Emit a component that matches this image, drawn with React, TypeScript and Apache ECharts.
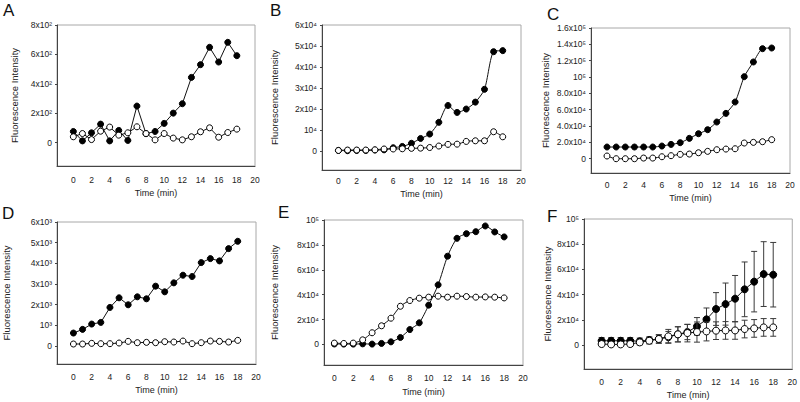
import React, { useEffect, useRef } from "react";
import * as echarts from "echarts";

const time = [0, 1, 2, 3, 4, 5, 6, 7, 8, 9, 10, 11, 12, 13, 14, 15, 16, 17, 18];
const xTicks = [0, 2, 4, 6, 8, 10, 12, 14, 16, 18, 20];

const aFilled = [75, 11, 66, 125, 11, 82, 14, 248, 60, 75, 130, 200, 264, 443, 530, 648, 548, 682, 591];
const aOpen = [39, 61, 20, 77, 105, 50, 66, 107, 61, 18, 61, 30, 18, 39, 73, 100, 36, 68, 91];
const aTicks = [0, 200, 400, 600, 800];
const aLabels = ["0", "2x10²", "4x10²", "6x10²", "8x10²"];

const bFilled = [300, 200, 300, 300, 500, 600, 1600, 2200, 3700, 6000, 8100, 13700, 21700, 18400, 20000, 23300, 29400, 47300, 47800];
const bOpen = [300, 500, 500, 500, 600, 1000, 1000, 1100, 1300, 1400, 1700, 2400, 3200, 3300, 4600, 4900, 4900, 9200, 6800];
const bTicks = [0, 10000, 20000, 30000, 40000, 50000, 60000];
const bLabels = ["0", "10⁴", "2x10⁴", "3x10⁴", "4x10⁴", "5x10⁴", "6x10⁴"];

const cFilled = [14300, 14300, 14300, 14300, 14300, 14300, 15500, 17500, 19600, 24900, 30600, 35500, 44900, 55500, 69400, 100400, 118400, 134700, 135500];
const cOpen = [3300, 0, 0, 0, 800, 800, 2400, 3700, 5300, 5700, 7300, 9000, 11000, 11800, 12200, 19200, 20000, 20800, 23300];
const cTicks = [0, 20000, 40000, 60000, 80000, 100000, 120000, 140000, 160000];
const cLabels = ["0", "2.0x10⁴", "4.0x10⁴", "6.0x10⁴", "8.0x10⁴", "10⁵", "1.2x10⁵", "1.4x10⁵", "1.6x10⁵"];

const dFilled = [627, 804, 1062, 1142, 1866, 2332, 1995, 2381, 2284, 2895, 2622, 3056, 3426, 3362, 4037, 4230, 4118, 4713, 5067];
const dOpen = [97, 97, 129, 113, 113, 145, 225, 161, 177, 161, 209, 193, 241, 113, 161, 241, 225, 193, 273];
const dTicks = [0, 1000, 2000, 3000, 4000, 5000, 6000];
const dLabels = ["0", "10³", "2x10³", "3x10³", "4x10³", "5x10³", "6x10³"];

const eFilled = [400, 300, 300, 500, 300, 800, 2100, 5600, 12000, 17400, 31600, 47900, 70900, 85300, 89000, 90600, 95200, 90400, 86400];
const eOpen = [1100, 800, 1100, 3700, 9400, 15000, 21100, 30700, 35300, 37200, 38000, 38800, 38000, 38800, 38500, 38000, 38200, 38000, 37400];
const eTicks = [0, 20000, 40000, 60000, 80000, 100000];
const eLabels = ["0", "2x10⁴", "4x10⁴", "6x10⁴", "8x10⁴", "10⁵"];

const fFilled = [3400, 3400, 3400, 3400, 3000, 4000, 4800, 6300, 8500, 10300, 14800, 20400, 28600, 32500, 36800, 44200, 50300, 56300, 55800];
const fFilledSd = [2500, 2500, 2500, 2500, 2500, 2500, 3000, 4500, 6000, 6000, 7000, 9000, 13000, 16700, 18400, 21700, 24000, 25700, 25600];
const fOpen = [800, 500, 500, 800, 2100, 3400, 4800, 6900, 8500, 9500, 10300, 10800, 11400, 11600, 11600, 12700, 13200, 14000, 14000];
const fOpenSd = [1500, 1500, 1500, 1500, 2000, 2500, 3500, 5500, 6000, 7000, 8000, 7500, 7000, 7000, 7000, 7000, 7000, 7000, 7000];
const fTicks = [0, 20000, 40000, 60000, 80000, 100000];
const fLabels = ["0", "2x10⁴", "4x10⁴", "6x10⁴", "8x10⁴", "10⁵"];

const letters = ["A", "B", "C", "D", "E", "F"];
const yName = "Fluorescence Intensity";
const xName = "Time (min)";

const FONT = "'Liberation Sans', Arial, sans-serif";

type Panel = {
  grid: { left: number; top: number; width: number; height: number };
  xMin: number;
  yMin: number;
  yMax: number;
  ticks: number[];
  labels: string[];
  filled: number[];
  open: number[];
  filledSd?: number[];
  openSd?: number[];
  smooth: number | boolean;
  yNameGap: number;
  xNameGap: number;
  xLabelMargin: number;
  letter: [number, number];
  symbolSize: number;
};

const panels: Panel[] = [
  { grid: { left: 57, top: 25, width: 198, height: 141 }, xMin: -1.8, yMin: -160, yMax: 800, ticks: aTicks, labels: aLabels, filled: aFilled, open: aOpen, smooth: false, yNameGap: 38, xNameGap: 22, xLabelMargin: 9, letter: [3, 2], symbolSize: 6 },
  { grid: { left: 322, top: 25, width: 199, height: 145 }, xMin: -1.8, yMin: -9000, yMax: 60000, ticks: bTicks, labels: bLabels, filled: bFilled, open: bOpen, smooth: 0.25, yNameGap: 43, xNameGap: 19, xLabelMargin: 6, letter: [270, 2], symbolSize: 6 },
  { grid: { left: 591, top: 28, width: 199, height: 145 }, xMin: -1.75, yMin: -17500, yMax: 160000, ticks: cTicks, labels: cLabels, filled: cFilled, open: cOpen, smooth: 0.25, yNameGap: 41, xNameGap: 20, xLabelMargin: 7, letter: [547, 6], symbolSize: 6 },
  { grid: { left: 57, top: 222, width: 199, height: 142 }, xMin: -1.8, yMin: -870, yMax: 6000, ticks: dTicks, labels: dLabels, filled: dFilled, open: dOpen, smooth: false, yNameGap: 46, xNameGap: 21, xLabelMargin: 8, letter: [2, 205], symbolSize: 6 },
  { grid: { left: 324, top: 220, width: 199, height: 145 }, xMin: -1.1, yMin: -16500, yMax: 100000, ticks: eTicks, labels: eLabels, filled: eFilled, open: eOpen, smooth: 0.25, yNameGap: 45, xNameGap: 22, xLabelMargin: 8, letter: [278, 204], symbolSize: 6 },
  { grid: { left: 584, top: 219, width: 209, height: 150 }, xMin: -1.85, yMin: -19000, yMax: 100000, ticks: fTicks, labels: fLabels, filled: fFilled, open: fOpen, filledSd: fFilledSd, openSd: fOpenSd, smooth: false, yNameGap: 32, xNameGap: 21, xLabelMargin: 8, letter: [547, 208], symbolSize: 7 },
];

function errorBarRender(params: any, api: any) {
  const x = api.value(0);
  const y = api.value(1);
  const sd = api.value(2);
  const top = api.coord([x, y + sd]);
  const bot = api.coord([x, y - sd]);
  const hw = 3;
  const style = { stroke: "#3a3a3a", lineWidth: 1 };
  return {
    type: "group",
    children: [
      { type: "line", shape: { x1: top[0], y1: top[1], x2: bot[0], y2: bot[1] }, style },
      { type: "line", shape: { x1: top[0] - hw, y1: top[1], x2: top[0] + hw, y2: top[1] }, style },
      { type: "line", shape: { x1: bot[0] - hw, y1: bot[1], x2: bot[0] + hw, y2: bot[1] }, style },
    ],
  };
}

export default function App() {
  const ref = useRef<HTMLDivElement>(null);
  useEffect(() => {
    if (!ref.current) return;
    const chart = echarts.init(ref.current, undefined, { renderer: "svg" });
    const grids: any[] = [];
    const xAxes: any[] = [];
    const yAxes: any[] = [];
    const series: any[] = [];
    const graphics: any[] = [];
    panels.forEach((p, i) => {
      grids.push({ ...p.grid, show: true, borderColor: "#a8a8a8", borderWidth: 1, backgroundColor: "transparent" });
      xAxes.push({
        type: "value",
        gridIndex: i,
        min: p.xMin,
        max: 20,
        name: xName,
        nameLocation: "middle",
        nameGap: p.xNameGap,
        nameTextStyle: { fontFamily: FONT, fontSize: 9, color: "#222" },
        axisLine: { show: true, onZero: false, lineStyle: { color: "#444", width: 1 } },
        axisTick: { show: false },
        splitLine: { show: false },
        axisLabel: {
          customValues: xTicks,
          margin: p.xLabelMargin,
          fontFamily: FONT,
          fontSize: 8.5,
          color: "#222",
          showMinLabel: true,
          showMaxLabel: true,
        },
      });
      yAxes.push({
        type: "value",
        gridIndex: i,
        min: p.yMin,
        max: p.yMax,
        name: yName,
        nameLocation: "middle",
        nameGap: p.yNameGap,
        nameTextStyle: { fontFamily: FONT, fontSize: 9.5, color: "#222" },
        axisLine: { show: true, onZero: false, lineStyle: { color: "#444", width: 1 } },
        axisTick: { show: true, length: 2, customValues: p.ticks, lineStyle: { color: "#444" } },
        splitLine: { show: false },
        axisLabel: {
          customValues: p.ticks,
          margin: 5,
          fontFamily: FONT,
          fontSize: 8.5,
          color: "#222",
          formatter: (v: number) => {
            let best = 0;
            let bd = Infinity;
            p.ticks.forEach((t, k) => {
              const d = Math.abs(t - v);
              if (d < bd) { bd = d; best = k; }
            });
            return p.labels[best];
          },
        },
      });
      if (p.filledSd) {
        series.push({
          type: "custom",
          xAxisIndex: i,
          yAxisIndex: i,
          renderItem: errorBarRender,
          encode: { x: 0, y: 1 },
          data: time.map((t, k) => [t, p.filled[k], p.filledSd![k]]),
          z: 1,
          silent: true,
        });
      }
      series.push({
        type: "line",
        xAxisIndex: i,
        yAxisIndex: i,
        data: time.map((t, k) => [t, p.filled[k]]),
        symbol: "circle",
        symbolSize: p.symbolSize,
        showAllSymbol: true,
        smooth: p.smooth,
        itemStyle: { color: "#000", borderColor: "#000", borderWidth: 1 },
        lineStyle: { color: "#111", width: 1 },
        z: 2,
        silent: true,
      });
      if (p.openSd) {
        series.push({
          type: "custom",
          xAxisIndex: i,
          yAxisIndex: i,
          renderItem: errorBarRender,
          encode: { x: 0, y: 1 },
          data: time.map((t, k) => [t, p.open[k], p.openSd![k]]),
          z: 3,
          silent: true,
        });
      }
      series.push({
        type: "line",
        xAxisIndex: i,
        yAxisIndex: i,
        data: time.map((t, k) => [t, p.open[k]]),
        symbol: "circle",
        symbolSize: p.symbolSize,
        showAllSymbol: true,
        smooth: p.smooth,
        itemStyle: { color: "#fff", borderColor: "#000", borderWidth: 1 },
        lineStyle: { color: "#111", width: 1 },
        z: 4,
        silent: true,
      });
      graphics.push({
        type: "text",
        x: p.letter[0],
        y: p.letter[1],
        style: { text: letters[i], fontFamily: FONT, fontSize: 17, fill: "#111", textVerticalAlign: "top" },
      });
    });
    chart.setOption({
      animation: false,
      backgroundColor: "#fff",
      grid: grids,
      xAxis: xAxes,
      yAxis: yAxes,
      series,
      graphic: graphics,
    });
    return () => chart.dispose();
  }, []);
  return (
    <div
      ref={ref}
      style={{ position: "fixed", left: 0, top: 0, width: 800, height: 402, background: "#fff" }}
    />
  );
}
